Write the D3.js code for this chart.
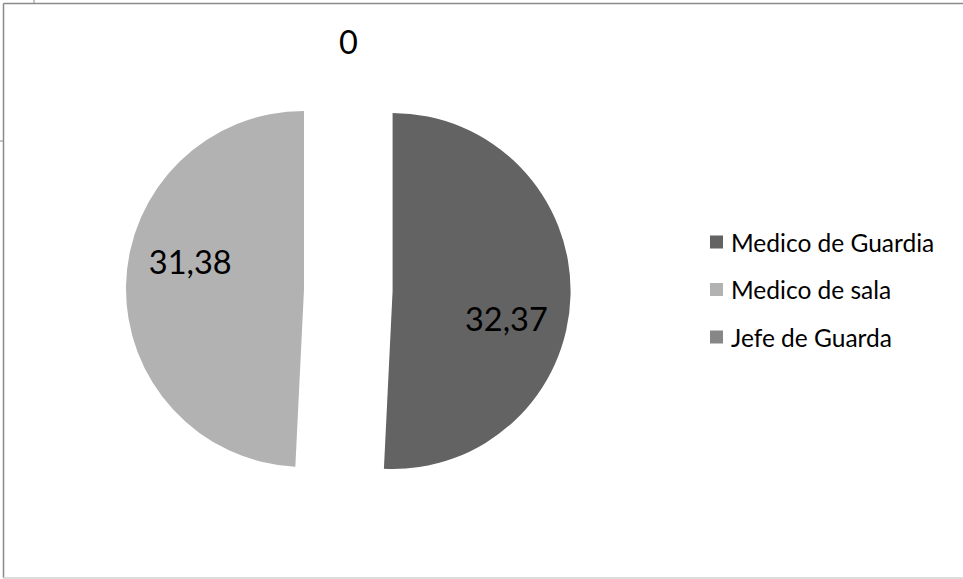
<!DOCTYPE html>
<html>
<head>
<meta charset="utf-8">
<script src="https://cdn.jsdelivr.net/npm/d3@7"></script>
<style>
  html, body { margin: 0; padding: 0; background: #fff; }
  svg { display: block; }
  text { font-family: Lato, "Open Sans", sans-serif; fill: #000; }
</style>
</head>
<body>
<svg id="chart" width="963" height="579"></svg>
<script>
const categories = ["Medico de Guardia", "Medico de sala", "Jefe de Guarda"];
const values = [32.37, 31.38, 0];
const valueLabels = ["32,37", "31,38", "0"];
const colors = ["#636363", "#b2b2b2", "#878787"];

const W = 963, H = 579;
const svg = d3.select("#chart");

// frame
svg.append("line").attr("x1", 3.5).attr("y1", 3.5).attr("x2", W).attr("y2", 3.5)
  .attr("stroke", "#8a8a8a").attr("stroke-width", 1.5);
svg.append("line").attr("x1", 3.5).attr("y1", 3.5).attr("x2", 3.5).attr("y2", 578)
  .attr("stroke", "#8a8a8a").attr("stroke-width", 1.5);
svg.append("line").attr("x1", 3).attr("y1", 578).attr("x2", W).attr("y2", 578)
  .attr("stroke", "#d0d0d0").attr("stroke-width", 1.5);
svg.append("line").attr("x1", 34).attr("y1", 0).attr("x2", 34).attr("y2", 3)
  .attr("stroke", "#8a8a8a").attr("stroke-width", 1);
svg.append("line").attr("x1", 0).attr("y1", 141).attr("x2", 3).attr("y2", 141)
  .attr("stroke", "#8a8a8a").attr("stroke-width", 1);

const cx = 348.3, cy = 290, R = 178, explode = 44.3;

const pie = d3.pie().sort(null).value(d => d)(values);
const arc = d3.arc().innerRadius(0).outerRadius(R);

const g = svg.append("g").attr("transform", `translate(${cx},${cy})`);

const slices = g.selectAll("g.slice").data(pie).join("g")
  .attr("class", "slice")
  .attr("transform", d => {
    if (d.endAngle - d.startAngle === 0) return null;
    const a = (d.startAngle + d.endAngle) / 2;
    return `translate(${explode * Math.sin(a)},${-explode * Math.cos(a)})`;
  });

slices.append("path")
  .attr("d", arc)
  .attr("fill", (d, i) => colors[i]);

// labels
const labelR = 117, labelShift = 12 * Math.PI / 180, zeroR = 249;
slices.append("text")
  .attr("text-anchor", "middle")
  .attr("dominant-baseline", "central")
  .style("font-size", "32.5px")
  .attr("x", d => {
    if (d.endAngle - d.startAngle === 0) return zeroR * Math.sin(d.startAngle);
    const a = (d.startAngle + d.endAngle) / 2 + labelShift;
    return labelR * Math.sin(a);
  })
  .attr("y", d => {
    if (d.endAngle - d.startAngle === 0) return -zeroR * Math.cos(d.startAngle);
    const a = (d.startAngle + d.endAngle) / 2 + labelShift;
    return -labelR * Math.cos(a);
  })
  .text((d, i) => valueLabels[i]);

// legend
const legendY = d3.scalePoint().domain(categories).range([242, 337]);
const lg = svg.append("g");
const items = lg.selectAll("g").data(categories).join("g")
  .attr("transform", d => `translate(710,${legendY(d)})`);
items.append("rect").attr("x", 0).attr("y", -6.5).attr("width", 13).attr("height", 13)
  .attr("fill", (d, i) => colors[i]);
items.append("text").attr("x", 21).attr("y", 0)
  .attr("dominant-baseline", "central")
  .style("font-size", "24.5px")
  .text(d => d);
</script>
</body>
</html>
